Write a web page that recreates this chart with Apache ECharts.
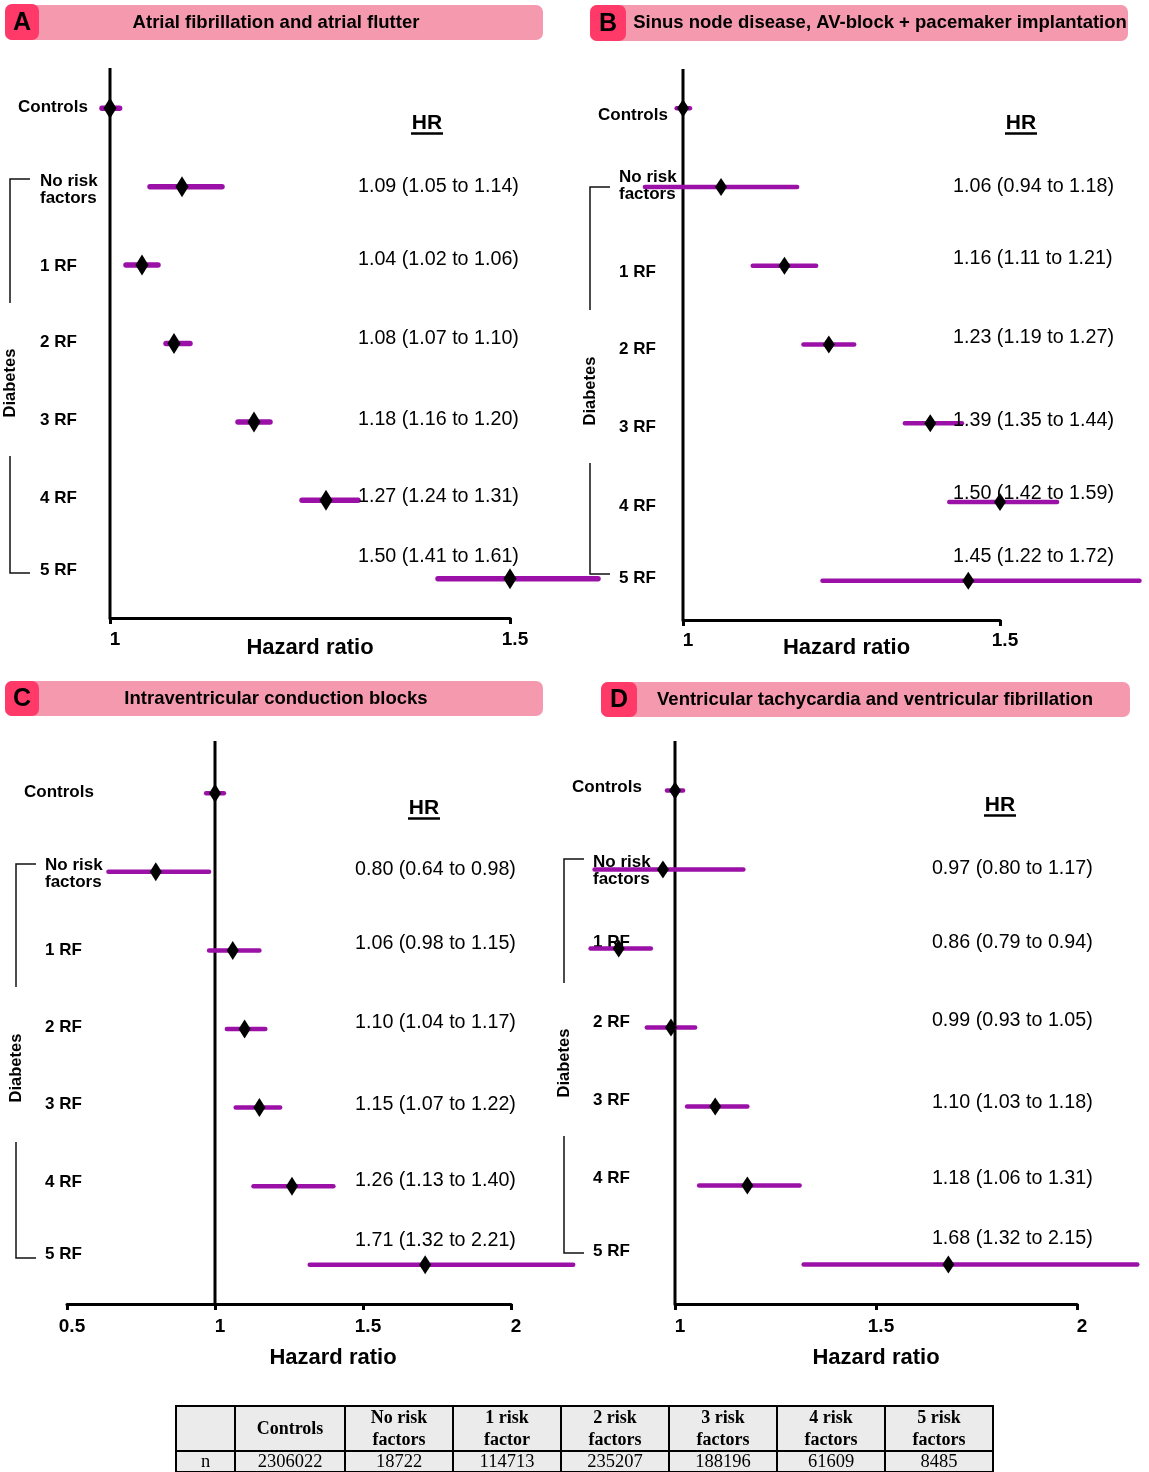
<!DOCTYPE html>
<html><head><meta charset="utf-8">
<script src="https://cdn.jsdelivr.net/npm/echarts@6/dist/echarts.min.js"></script>
<style>html,body{margin:0;padding:0;background:#fff}#c{width:1149px;height:1472px}</style>
</head><body><div id="c"></div>
<script>
// ---------------- DATA ----------------
const categories = ['Controls', 'No risk\nfactors', '1 RF', '2 RF', '3 RF', '4 RF', '5 RF'];

// Panel A: Atrial fibrillation and atrial flutter
const hrA = [1.00, 1.09, 1.04, 1.08, 1.18, 1.27, 1.50];
const loA = [0.99, 1.05, 1.02, 1.07, 1.16, 1.24, 1.41];
const hiA = [1.012, 1.14, 1.06, 1.10, 1.20, 1.31, 1.61];
const hrTextA = ['', '1.09 (1.05 to 1.14)', '1.04 (1.02 to 1.06)', '1.08 (1.07 to 1.10)', '1.18 (1.16 to 1.20)', '1.27 (1.24 to 1.31)', '1.50 (1.41 to 1.61)'];

// Panel B: Sinus node disease, AV-block + pacemaker implantation
const hrB = [1.00, 1.06, 1.16, 1.23, 1.39, 1.50, 1.45];
const loB = [0.99, 0.94, 1.11, 1.19, 1.35, 1.42, 1.22];
const hiB = [1.011, 1.18, 1.21, 1.27, 1.44, 1.59, 1.72];
const hrTextB = ['', '1.06 (0.94 to 1.18)', '1.16 (1.11 to 1.21)', '1.23 (1.19 to 1.27)', '1.39 (1.35 to 1.44)', '1.50 (1.42 to 1.59)', '1.45 (1.22 to 1.72)'];

// Panel C: Intraventricular conduction blocks
const hrC = [1.00, 0.80, 1.06, 1.10, 1.15, 1.26, 1.71];
const loC = [0.97, 0.64, 0.98, 1.04, 1.07, 1.13, 1.32];
const hiC = [1.03, 0.98, 1.15, 1.17, 1.22, 1.40, 2.21];
const hrTextC = ['', '0.80 (0.64 to 0.98)', '1.06 (0.98 to 1.15)', '1.10 (1.04 to 1.17)', '1.15 (1.07 to 1.22)', '1.26 (1.13 to 1.40)', '1.71 (1.32 to 2.21)'];

// Panel D: Ventricular tachycardia and ventricular fibrillation
const hrD = [1.00, 0.97, 0.86, 0.99, 1.10, 1.18, 1.68];
const loD = [0.98, 0.80, 0.79, 0.93, 1.03, 1.06, 1.32];
const hiD = [1.02, 1.17, 0.94, 1.05, 1.18, 1.31, 2.15];
const hrTextD = ['', '0.97 (0.80 to 1.17)', '0.86 (0.79 to 0.94)', '0.99 (0.93 to 1.05)', '1.10 (1.03 to 1.18)', '1.18 (1.06 to 1.31)', '1.68 (1.32 to 2.15)'];

const panelLetters = ['A', 'B', 'C', 'D'];
const panelTitles = [
  'Atrial fibrillation and atrial flutter',
  'Sinus node disease, AV-block + pacemaker implantation',
  'Intraventricular conduction blocks',
  'Ventricular tachycardia and ventricular fibrillation'
];
const xAxisName = 'Hazard ratio';
const groupLabel = 'Diabetes';
const hrHeader = 'HR';

const tableHeaders = ['', 'Controls', 'No risk\nfactors', '1 risk\nfactor', '2 risk\nfactors', '3 risk\nfactors', '4 risk\nfactors', '5 risk\nfactors'];
const tableN = ['n', '2306022', '18722', '114713', '235207', '188196', '61609', '8485'];

// ---------------- LAYOUT / STYLE ----------------
const FONT = '"Liberation Sans", Arial, Helvetica, sans-serif';
const SERIF = '"Liberation Serif", "Times New Roman", serif';
const PURPLE = '#9b10a6';
const BAR_PINK = '#f59aae';
const BOX_PINK = '#ff3a69';

const panels = [
  { hr: hrA, lo: loA, hi: hiA, txt: hrTextA,
    grid: { left: 110, top: 69, width: 400, height: 549 }, min: 1, max: 1.5,
    textX: 1.31, txtDy: [0, 0, -6, -5, -2, -4, -22],
    lblMargin: 92, lblPad: 22, lblDy: [-1, 3, 1, -1, -2, -2, -8],
    nameGap: 19, namePad: 0, refExt: 1, diamond: [13, 21], barW: 5.5, tickMargin: 12,
    bar: { x: 5, y: 5, w: 538, h: 35 }, box: { x: 5, y: 4, w: 34, h: 36 }, titleX: 276,
    bracket: { x: 10, t: 179, tb: 303, bt: 456, b: 573 }, diabY: 383,
    hrHead: { x: 427, y: 123 } },
  { hr: hrB, lo: loB, hi: hiB, txt: hrTextB,
    grid: { left: 683, top: 69, width: 317, height: 551 }, min: 1, max: 1.5,
    textX: 1.426, txtDy: [0, -1, -7, -7, -3, -8, -24],
    lblMargin: 85, lblPad: 21, lblDy: [7, -1, 7, 5, 4, 4, -2],
    nameGap: 17, namePad: 10, refExt: 0, diamond: [12, 18], barW: 4.5, tickMargin: 11,
    bar: { x: 590, y: 5, w: 538, h: 36 }, box: { x: 590, y: 5, w: 36, h: 36 }, titleX: 880,
    bracket: { x: 590, t: 187, tb: 310, bt: 463, b: 574 }, diabY: 391,
    hrHead: { x: 1021, y: 123 } },
  { hr: hrC, lo: loC, hi: hiC, txt: hrTextC,
    grid: { left: 67, top: 754, width: 444, height: 550 }, min: 0.5, max: 2,
    textX: 1.473, txtDy: [0, -2, -7, -6, -3, -6, -24],
    lblMargin: 43, lblPad: 21, lblDy: [-1, 2, 0, -2, -3, -4, -10],
    nameGap: 43, namePad: 88, refExt: 13, diamond: [12, 19], barW: 4.5, tickMargin: 13,
    bar: { x: 5, y: 681, w: 538, h: 35 }, box: { x: 5, y: 681, w: 34, h: 35 }, titleX: 276,
    bracket: { x: 16, t: 864, tb: 987, bt: 1142, b: 1258 }, diabY: 1068,
    hrHead: { x: 424, y: 808 } },
  { hr: hrD, lo: loD, hi: hiD, txt: hrTextD,
    grid: { left: 675, top: 751, width: 402, height: 553 }, min: 1, max: 2,
    textX: 1.639, txtDy: [0, -1, -6, -7, -4, -7, -26],
    lblMargin: 103, lblPad: 21, lblDy: [-3, 1, -6, -5, -6, -7, -13],
    nameGap: 43, namePad: 0, refExt: 10, diamond: [12, 18], barW: 4.5, tickMargin: 13,
    bar: { x: 601, y: 682, w: 529, h: 35 }, box: { x: 601, y: 682, w: 36, h: 35 }, titleX: 875,
    bracket: { x: 564, t: 859, tb: 983, bt: 1136, b: 1253 }, diabY: 1063,
    hrHead: { x: 1000, y: 805 } }
];

// ---------------- BUILD OPTION ----------------
const grids = [], xAxes = [], yAxes = [], series = [], graphics = [];

panels.forEach((p, k) => {
  grids.push(Object.assign({ containLabel: false }, p.grid));

  xAxes.push({
    gridIndex: k, type: 'value', min: p.min, max: p.max, interval: 0.5,
    axisLine: { show: true, onZero: false, lineStyle: { color: '#000', width: 3 } },
    axisTick: { show: true, length: 6, lineStyle: { color: '#000', width: 3 } },
    axisLabel: { color: '#000', fontSize: 19, fontWeight: 'bold', fontFamily: FONT, margin: p.tickMargin, padding: [0, 0, 0, 10] },
    splitLine: { show: false },
    name: xAxisName, nameLocation: 'middle', nameGap: p.nameGap, nameMoveOverlap: false,
    nameTextStyle: { color: '#000', fontSize: 22, fontWeight: 'bold', fontFamily: FONT, padding: [0, 0, 0, p.namePad] }
  });

  const rich = {};
  categories.forEach((c, i) => {
    const d = p.lblDy[i];
    rich['r' + i] = {
      fontSize: 17, fontWeight: 'bold', fontFamily: FONT, color: '#000', lineHeight: 17,
      padding: [d > 0 ? 2 * d : 0, 0, d < 0 ? -2 * d : 0, i === 0 ? 0 : p.lblPad]
    };
  });
  yAxes.push({
    gridIndex: k, type: 'category', data: categories, inverse: true,
    axisLine: { show: false }, axisTick: { show: false }, splitLine: { show: false },
    axisLabel: {
      interval: 0, align: 'left', margin: p.lblMargin, color: '#000',
      fontSize: 17, fontWeight: 'bold', fontFamily: FONT,
      formatter: (v, i) => v.split('\n').map(s => '{r' + i + '|' + s + '}').join('\n'),
      rich: rich
    }
  });

  // reference line at HR = 1
  series.push({
    type: 'custom', xAxisIndex: k, yAxisIndex: k, z: 2, silent: true,
    data: [[1]], encode: { x: 0 },
    renderItem: (params, api) => {
      const cs = params.coordSys;
      const x = api.coord([api.value(0), 0])[0];
      return { type: 'line', shape: { x1: x, y1: cs.y - p.refExt, x2: x, y2: cs.y + cs.height },
        style: { stroke: '#000', lineWidth: 3 } };
    }
  });

  // confidence interval bars
  series.push({
    type: 'custom', xAxisIndex: k, yAxisIndex: k, z: 3, silent: true,
    data: categories.map((c, i) => [p.lo[i], p.hi[i], i]),
    encode: { x: [0, 1], y: 2 },
    renderItem: (params, api) => {
      const a = api.coord([api.value(0), api.value(2)]);
      const b = api.coord([api.value(1), api.value(2)]);
      return { type: 'line', shape: { x1: a[0], y1: a[1], x2: b[0], y2: b[1] },
        style: { stroke: PURPLE, lineWidth: p.barW, lineCap: 'round' } };
    }
  });

  // point estimates
  series.push({
    type: 'scatter', xAxisIndex: k, yAxisIndex: k, z: 4, silent: true, clip: false,
    symbol: 'diamond', symbolSize: p.diamond,
    itemStyle: { color: '#000', opacity: 1 },
    data: categories.map((c, i) => [p.hr[i], i])
  });

  // HR text column (as text-only custom marks anchored on the axes)
  series.push({
    type: 'custom', xAxisIndex: k, yAxisIndex: k, z: 5, silent: true,
    data: categories.map((c, i) => [p.textX, i]),
    encode: { x: 0, y: 1 },
    renderItem: (params, api) => {
      const i = params.dataIndex;
      const pt = api.coord([api.value(0), api.value(1)]);
      return { type: 'text', x: pt[0], y: pt[1] + p.txtDy[i],
        style: { text: p.txt[i], fill: '#000', font: '19.7px ' + FONT, textAlign: 'left', textVerticalAlign: 'middle' } };
    }
  });

  // title bar
  graphics.push({ type: 'rect', shape: { x: p.bar.x, y: p.bar.y, width: p.bar.w, height: p.bar.h, r: 7 }, style: { fill: BAR_PINK }, z: 1 });
  graphics.push({ type: 'rect', shape: { x: p.box.x, y: p.box.y, width: p.box.w, height: p.box.h, r: 7 }, style: { fill: BOX_PINK }, z: 2 });
  graphics.push({ type: 'text', x: p.box.x + p.box.w / 2, y: p.box.y + p.box.h / 2 + 1, z: 3,
    style: { text: panelLetters[k], fill: '#000', font: 'bold 25px ' + FONT, textAlign: 'center', textVerticalAlign: 'middle' } });
  graphics.push({ type: 'text', x: p.titleX, y: p.bar.y + p.bar.h / 2, z: 3,
    style: { text: panelTitles[k], fill: '#000', font: 'bold 18.5px ' + FONT, textAlign: 'center', textVerticalAlign: 'middle' } });

  // bracket
  const br = p.bracket;
  graphics.push({ type: 'polyline', shape: { points: [[br.x + 20, br.t], [br.x, br.t], [br.x, br.tb]] }, style: { stroke: '#111', lineWidth: 1.5, fill: null } });
  graphics.push({ type: 'polyline', shape: { points: [[br.x, br.bt], [br.x, br.b], [br.x + 20, br.b]] }, style: { stroke: '#111', lineWidth: 1.5, fill: null } });
  graphics.push({ type: 'text', x: br.x, y: p.diabY, rotation: Math.PI / 2,
    style: { text: groupLabel, fill: '#000', font: 'bold 16.5px ' + FONT, textAlign: 'center', textVerticalAlign: 'middle' } });

  // HR header
  graphics.push({ type: 'text', x: p.hrHead.x, y: p.hrHead.y,
    style: { text: hrHeader, fill: '#000', font: 'bold 21px ' + FONT, textAlign: 'center', textVerticalAlign: 'middle' } });
  graphics.push({ type: 'line', shape: { x1: p.hrHead.x - 16, y1: p.hrHead.y + 10.5, x2: p.hrHead.x + 16, y2: p.hrHead.y + 10.5 },
    style: { stroke: '#000', lineWidth: 2.5 } });
});

// ---------------- TABLE ----------------
const colX = [176, 235, 345, 453, 561, 669, 777, 885, 993];
const rowY = [1406, 1451, 1472];
for (let c = 0; c < tableHeaders.length; c++) {
  for (let r = 0; r < 2; r++) {
    graphics.push({ type: 'rect', z: 1,
      shape: { x: colX[c], y: rowY[r], width: colX[c + 1] - colX[c], height: rowY[r + 1] - rowY[r] },
      style: { fill: '#ebebeb', stroke: '#000', lineWidth: 2 } });
  }
  graphics.push({ type: 'text', z: 2, x: (colX[c] + colX[c + 1]) / 2, y: (rowY[0] + rowY[1]) / 2 + 1,
    style: { text: tableHeaders[c], fill: '#000', font: 'bold 18px ' + SERIF, lineHeight: 22, textAlign: 'center', textVerticalAlign: 'middle' } });
  graphics.push({ type: 'text', z: 2, x: (colX[c] + colX[c + 1]) / 2, y: 1462,
    style: { text: tableN[c], fill: '#000', font: '18.5px ' + SERIF, textAlign: 'center', textVerticalAlign: 'middle' } });
}

const chart = echarts.init(document.getElementById('c'), null, { renderer: 'canvas', width: 1149, height: 1472 });
chart.setOption({
  backgroundColor: '#fff',
  animation: false,
  grid: grids, xAxis: xAxes, yAxis: yAxes, series: series,
  graphic: { elements: graphics }
});
</script>
</body></html>
